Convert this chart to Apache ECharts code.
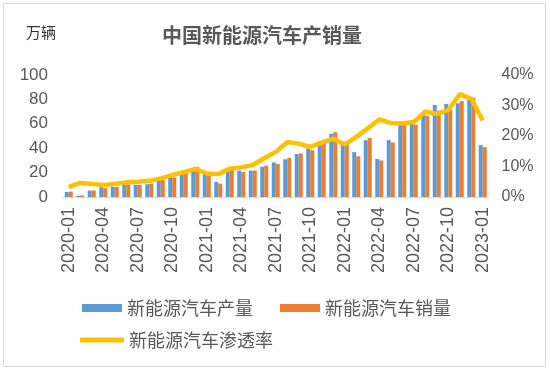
<!DOCTYPE html>
<html>
<head>
<meta charset="utf-8">
<script src="https://cdn.jsdelivr.net/npm/echarts@6/dist/echarts.min.js"></script>
<style>
html,body{margin:0;padding:0;background:#fff;}
#c{width:550px;height:371px;}
</style>
</head>
<body>
<div id="c"></div>
<script>
const categories = ['2020-01','2020-02','2020-03','2020-04','2020-05','2020-06','2020-07','2020-08','2020-09','2020-10','2020-11','2020-12',
'2021-01','2021-02','2021-03','2021-04','2021-05','2021-06','2021-07','2021-08','2021-09','2021-10','2021-11','2021-12',
'2022-01','2022-02','2022-03','2022-04','2022-05','2022-06','2022-07','2022-08','2022-09','2022-10','2022-11','2022-12',
'2023-01'];
const production = [4.1,1.0,5.3,8.1,8.4,10.2,10.0,10.5,13.6,16.4,19.8,23.5,
20.0,12.4,22.1,21.6,21.7,24.8,28.4,30.9,35.3,39.7,45.7,51.8,
45.2,36.8,46.5,31.2,46.6,59.0,61.7,69.1,75.5,76.2,76.8,79.4,
42.5];
const sales = [4.4,1.3,5.3,7.2,8.2,10.4,9.8,10.9,13.8,16.0,20.0,24.8,
17.9,11.0,22.6,20.6,21.7,25.6,27.1,32.1,35.7,38.3,45.0,53.1,
43.1,33.4,48.4,29.9,44.7,59.6,59.3,66.6,70.8,71.4,78.6,81.4,
40.8];
const penetration = [0.033,0.046,0.043,0.039,0.043,0.048,0.050,0.053,0.061,0.072,0.081,0.092,
0.077,0.075,0.093,0.097,0.105,0.127,0.148,0.180,0.175,0.164,0.178,0.191,
0.172,0.197,0.225,0.254,0.243,0.241,0.246,0.280,0.272,0.285,0.337,0.322,
0.251];
const leftTicks = [0,20,40,60,80,100];
const rightTicks = [0,0.1,0.2,0.3,0.4];

const chart = echarts.init(document.getElementById('c'));
const txt = '#595959';
const ff = '"Liberation Sans","Noto Sans CJK SC",sans-serif';
chart.setOption({
  animation:false,
  textStyle:{fontFamily:ff},
  graphic:[
    {type:'rect',shape:{x:3.5,y:3.5,width:542,height:363},style:{fill:'none',stroke:'#d9d9d9',lineWidth:1}},
    {type:'text',x:262,y:35,style:{text:'中国新能源汽车产销量',fill:txt,font:'bold 20px "Noto Sans CJK SC",sans-serif',textAlign:'center',textVerticalAlign:'middle'}},
    {type:'text',x:26,y:32,style:{text:'万辆',fill:'#333',font:'15px "Noto Sans CJK SC",sans-serif',textAlign:'left',textVerticalAlign:'middle'}}
  ],
  legend:[
    {left:77,top:294,itemWidth:40,itemHeight:8,itemGap:27,
     textStyle:{color:txt,fontSize:18,fontFamily:'"Noto Sans CJK SC",sans-serif'},
     data:[{name:'新能源汽车产量',icon:'rect'},{name:'新能源汽车销量',icon:'rect'}]},
    {left:75,top:326,itemWidth:44,itemHeight:5,
     textStyle:{color:txt,fontSize:18,fontFamily:'"Noto Sans CJK SC",sans-serif'},
     data:[{name:'新能源汽车渗透率',icon:'roundRect'}]}
  ],
  grid:{left:63,right:61.5,top:75,bottom:174,containLabel:false},
  xAxis:{type:'category',data:categories,boundaryGap:true,
    axisLine:{lineStyle:{color:'#d9d9d9'}},
    axisTick:{interval:2,length:5,lineStyle:{color:'#d9d9d9'}},
    axisLabel:{interval:2,rotate:90,color:txt,fontSize:18,margin:10}},
  yAxis:[
    {type:'value',min:leftTicks[0],max:leftTicks[leftTicks.length-1],interval:20,
     splitLine:{show:false},axisLine:{show:false},axisTick:{show:false},
     axisLabel:{color:txt,fontSize:17,margin:15}},
    {type:'value',min:rightTicks[0],max:rightTicks[rightTicks.length-1],interval:0.1,
     splitLine:{show:false},axisLine:{show:false},axisTick:{show:false},
     axisLabel:{color:txt,fontSize:16,margin:13,formatter:v=>Math.round(v*100)+'%'}}
  ],
  series:[
    {name:'新能源汽车产量',type:'bar',data:production,barWidth:4,barGap:'0%',itemStyle:{color:'#5B9BD5'}},
    {name:'新能源汽车销量',type:'bar',data:sales,barWidth:4,barGap:'0%',itemStyle:{color:'#ED7D31'}},
    {name:'新能源汽车渗透率',type:'line',yAxisIndex:1,data:penetration,symbol:'none',
     lineStyle:{color:'#FFC000',width:4.5},itemStyle:{color:'#FFC000'}}
  ]
});
</script>
</body>
</html>
